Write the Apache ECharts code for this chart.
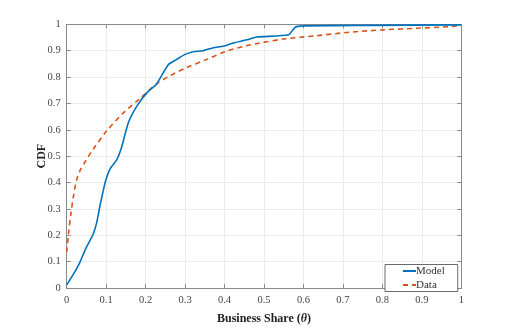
<!DOCTYPE html>
<html>
<head>
<meta charset="utf-8">
<script src="https://cdn.jsdelivr.net/npm/echarts@6/dist/echarts.min.js"></script>
<style>
  html, body { margin: 0; padding: 0; background: #fff; }
  #chart { width: 510px; height: 330px; }
</style>
</head>
<body>
<div id="chart"></div>
<script>
const xTicks = [0, 0.1, 0.2, 0.3, 0.4, 0.5, 0.6, 0.7, 0.8, 0.9, 1]
const yTicks = [0, 0.1, 0.2, 0.3, 0.4, 0.5, 0.6, 0.7, 0.8, 0.9, 1]

// model curve (theta, cdf)
const modelX = [0, 0.021, 0.034, 0.046, 0.059, 0.067, 0.076, 0.084, 0.093, 0.099, 0.11, 0.127, 0.139, 0.156, 0.177, 0.203, 0.228, 0.257, 0.279, 0.30, 0.321, 0.346, 0.372, 0.397, 0.422, 0.46, 0.481, 0.562, 0.579, 0.6, 0.77, 1]
const modelY = [0.012, 0.062, 0.099, 0.142, 0.18, 0.204, 0.248, 0.31, 0.372, 0.409, 0.452, 0.487, 0.533, 0.626, 0.688, 0.74, 0.774, 0.846, 0.867, 0.886, 0.896, 0.90, 0.911, 0.917, 0.929, 0.942, 0.952, 0.96, 0.989, 0.994, 0.996, 0.998]

// empirical data curve
const dataX = [0, 0.004, 0.011, 0.017, 0.025, 0.034, 0.046, 0.067, 0.101, 0.143, 0.186, 0.228, 0.262, 0.304, 0.355, 0.405, 0.456, 0.49, 0.549, 0.634, 0.718, 0.802, 0.887, 0.971, 1]
const dataY = [0.136, 0.198, 0.285, 0.347, 0.409, 0.446, 0.477, 0.526, 0.595, 0.663, 0.719, 0.774, 0.805, 0.836, 0.867, 0.898, 0.919, 0.929, 0.944, 0.957, 0.97, 0.979, 0.985, 0.991, 0.995]

const font = '"Liberation Serif", "DejaVu Serif", serif'
const axisColor = '#8a8a8a'

const chart = echarts.init(document.getElementById('chart'), null, { renderer: 'canvas' })

const fmt = v => {
  const t = Math.round(v * 10) / 10
  return t === 0 ? '0' : t === 1 ? '1' : String(t)
}

const baseX = {
  type: 'value', min: 0, max: 1, interval: 0.1,
  axisLine: { show: true, onZero: false, lineStyle: { color: axisColor, width: 1 } },
  axisTick: { show: true, inside: true, length: 4, lineStyle: { color: axisColor } },
  splitLine: { show: false },
}
const baseY = {
  type: 'value', min: 0, max: 1, interval: 0.1,
  axisLine: { show: true, onZero: false, lineStyle: { color: axisColor, width: 1 } },
  axisTick: { show: true, inside: true, length: 4, lineStyle: { color: axisColor } },
  splitLine: { show: false },
}

chart.setOption({
  animation: false,
  textStyle: { fontFamily: font },
  grid: { left: 66.7, right: 48.7, top: 24.3, bottom: 36.7 },
  legend: {
    orient: 'vertical',
    left: 385, top: 264.5,
    padding: [1, 13, 1, 17],
    itemGap: 3,
    itemWidth: 13, itemHeight: 12,
    backgroundColor: '#fff',
    borderColor: '#444', borderWidth: 0.8,
    itemStyle: { opacity: 0 },
    textStyle: { fontFamily: font, fontSize: 11, color: '#333', padding: [0, 0, 0, -5] },
    data: ['Model', 'Data'],
  },
  xAxis: [
    {
      ...baseX,
      position: 'bottom',
      name: '{b|Business Share (}{i|θ}{b|)}',
      nameLocation: 'center',
      nameGap: 25,
      nameTextStyle: {
        rich: {
          b: { fontFamily: font, fontSize: 12, fontWeight: 'bold', color: '#222' },
          i: { fontFamily: font, fontSize: 12, fontWeight: 'bold', fontStyle: 'italic', color: '#222' },
        },
      },
      axisLabel: { fontFamily: font, fontSize: 10.5, color: '#444', margin: 7, formatter: fmt },
      splitLine: { show: true, lineStyle: { color: '#ebebeb', width: 1 } },
    },
    { ...baseX, position: 'top', axisLabel: { show: false } },
  ],
  yAxis: [
    {
      ...baseY,
      position: 'left',
      name: 'CDF',
      nameLocation: 'center',
      nameRotate: 90,
      nameGap: 19,
      nameMoveOverlap: false,
      nameTextStyle: { fontFamily: font, fontSize: 12, fontWeight: 'bold', color: '#222' },
      axisLabel: { fontFamily: font, fontSize: 10.5, color: '#444', margin: 6, formatter: fmt },
      splitLine: { show: true, lineStyle: { color: '#ebebeb', width: 1 } },
    },
    { ...baseY, position: 'right', axisLabel: { show: false } },
  ],
  series: [
    {
      name: 'Model',
      type: 'line',
      data: modelX.map((x, i) => [x, modelY[i]]),
      symbol: 'none',
      smooth: 0.2,
      lineStyle: { color: '#0072BD', width: 1.6 },
      itemStyle: { color: '#0072BD' },
      z: 3,
    },
    {
      name: 'Data',
      type: 'line',
      data: dataX.map((x, i) => [x, dataY[i]]),
      symbol: 'none',
      smooth: 0.3,
      lineStyle: { color: '#D95319', width: 1.6, type: [5, 4] },
      itemStyle: { color: '#D95319' },
      z: 2,
    },
  ],
})
</script>
</body>
</html>
